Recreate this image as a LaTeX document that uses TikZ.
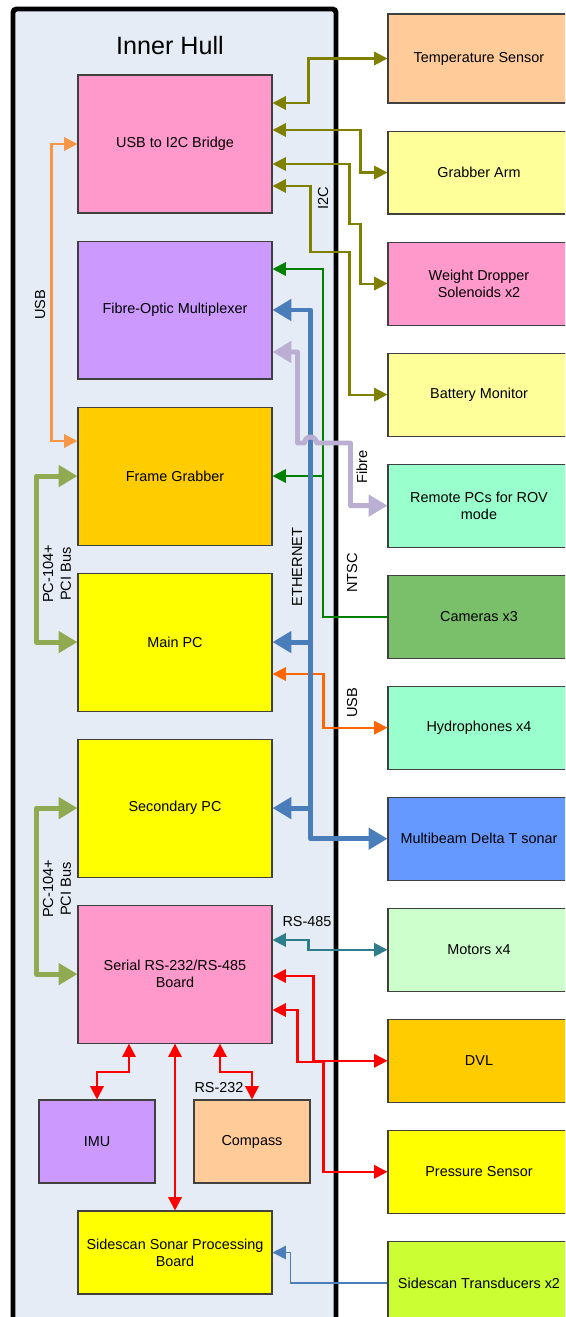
\documentclass[tikz,border=0pt]{standalone}
\usepackage{fontspec}
\setmainfont{Liberation Sans}
\usetikzlibrary{arrows.meta, positioning}
\definecolor{hull-bg}{HTML}{E6ECF6}
\definecolor{box-line}{HTML}{404040}
\definecolor{pink-box}{HTML}{FF99CC}
\definecolor{violet-box}{HTML}{CC99FF}
\definecolor{amber-box}{HTML}{FFCC00}
\definecolor{yellow-box}{HTML}{FFFF00}
\definecolor{peach-box}{HTML}{FFCC99}
\definecolor{paleyellow-box}{HTML}{FFFF99}
\definecolor{mint-box}{HTML}{99FFCC}
\definecolor{camera-green}{HTML}{7AC06A}
\definecolor{sonar-blue}{HTML}{6699FF}
\definecolor{palegreen-box}{HTML}{CCFFCC}
\definecolor{lime-box}{HTML}{CCFF33}
\definecolor{i2c-olive}{HTML}{808000}
\definecolor{usb-orange}{HTML}{F79646}
\definecolor{usb-red}{HTML}{FF6600}
\definecolor{ntsc-green}{HTML}{008000}
\definecolor{eth-blue}{HTML}{4A7EBB}
\definecolor{fibre-lilac}{HTML}{BBAED3}
\definecolor{pci-green}{HTML}{8FAA50}
\definecolor{rs485-teal}{HTML}{2E7D8C}

\begin{document}
\begin{tikzpicture}[
    x=0.02cm, y=-0.02cm,
    node distance=0.54cm,
    font=\fontsize{8.2}{9.8}\selectfont,
    inbox/.style={draw=box-line, line width=0.6pt, align=center, minimum width=3.88cm, minimum height=2.76cm, inner sep=1pt},
    outbox/.style={draw=box-line, line width=0.6pt, align=center, minimum width=3.64cm, minimum height=1.66cm, inner sep=1pt},
    smallbox/.style={inbox, minimum width=2.32cm, minimum height=1.66cm},
    oneway/.style={-{Triangle[length=7.6pt,width=7.6pt]}, line width=1.2pt},
    twoway/.style={{Triangle[length=7.6pt,width=7.6pt]}-{Triangle[length=7.6pt,width=7.6pt]}, line width=1.2pt},
    busway/.style={{Triangle[length=10.8pt,width=12pt]}-{Triangle[length=10.8pt,width=12pt]}, line width=2.8pt, line join=round},
    busend/.style={-{Triangle[length=10.8pt,width=12pt]}, line width=2.8pt},
    lbl/.style={rotate=90, align=center, inner sep=0pt, font=\fontsize{8.3}{10}\selectfont}
]
    \clip (0,0) rectangle (565,1317);
    \fill[white] (0,0) rectangle (565,1317);

    % hull
    \draw[line width=2.8pt, rounded corners=2pt, fill=hull-bg] (13,9) rectangle (336,1345);
    \node[font=\fontsize{14.3}{17}\selectfont] (hulltitle) at (170,46) {Inner Hull};

    % inside the hull
    \node[inbox, fill=pink-box] (bridge) at (175,144) {USB to I2C Bridge};
    \node[inbox, fill=violet-box, below=of bridge] (mux) {Fibre-Optic Multiplexer};
    \node[inbox, fill=amber-box, below=of mux] (fgrab) {Frame Grabber};
    \node[inbox, fill=yellow-box, below=of fgrab] (mainpc) {Main PC};
    \node[inbox, fill=yellow-box, below=of mainpc] (secpc) {Secondary PC};
    \node[inbox, fill=pink-box, below=of secpc] (serial) {Serial RS-232/RS-485\\Board};
    \node[smallbox, fill=violet-box] (imu) at (97,1141.5) {IMU};
    \node[smallbox, fill=peach-box] (compass) at (252,1141.5) {Compass};
    \node[inbox, fill=yellow-box, minimum height=1.66cm] (sideboard) at (175,1252.5) {Sidescan Sonar Processing\\Board};

    % outside the hull
    \node[outbox, fill=peach-box, minimum height=1.78cm] (temp) at (479,58.5) {Temperature Sensor};
    \node[outbox, fill=paleyellow-box, below=of temp] (arm) {Grabber Arm};
    \node[outbox, fill=pink-box, below=of arm] (weight) {Weight Dropper\\Solenoids x2};
    \node[outbox, fill=paleyellow-box, below=of weight] (battery) {Battery Monitor};
    \node[outbox, fill=mint-box, below=of battery] (remote) {Remote PCs for ROV\\mode};
    \node[outbox, fill=camera-green, below=of remote] (cams) {Cameras x3};
    \node[outbox, fill=mint-box, below=of cams] (hydro) {Hydrophones x4};
    \node[outbox, fill=sonar-blue, below=of hydro] (sonar) {Multibeam Delta T sonar};
    \node[outbox, fill=palegreen-box, below=of sonar] (motors) {Motors x4};
    \node[outbox, fill=amber-box, below=of motors] (dvl) {DVL};
    \node[outbox, fill=yellow-box, below=of dvl] (pressure) {Pressure Sensor};
    \node[outbox, fill=lime-box, below=of pressure] (trans) {Sidescan Transducers x2};

    % bus lines
    \coordinate (ntscbus) at (323,0);
    \coordinate (ethbus) at (310,0);

    % I2C
    \draw[twoway, i2c-olive] (bridge.east |- 0,103) -- ++(36,0) |- (temp.west);
    \draw[twoway, i2c-olive] (bridge.east |- 0,130) -- ++(88,0) |- (arm.west);
    \draw[twoway, i2c-olive] (bridge.east |- 0,164) -- ++(77,0) -- ++(0,60) -- ++(11,0) |- (weight.west);
    \draw[twoway, i2c-olive] (bridge.east |- 0,186) -- ++(38,0) -- ++(0,66) -- ++(39,0) |- (battery.west);
    \node[lbl] (i2clbl) at (323,198) {I2C};

    % USB
    \draw[twoway, usb-orange] (bridge.west) -- ++(-26,0) |- (fgrab.west |- 0,441);
    \node[lbl] (usblbl) at (40,305) {USB};
    \draw[twoway, usb-red] (mainpc.east |- 0,674) -- ++(51,0) |- (hydro.west);
    \node[lbl] (usb2lbl) at (352,703) {USB};

    % NTSC
    \draw[oneway, ntsc-green] (cams.west) -| (ntscbus |- 0,269) -- (mux.east |- 0,269);
    \draw[oneway, ntsc-green] (fgrab.east -| ntscbus) -- (fgrab.east);
    \node[lbl] (ntsclbl) at (352,573) {NTSC};

    % ETHERNET
    \draw[busway, eth-blue] (mux.east |- 0,310) -- ++(38,0) |- (sonar.west);
    \draw[busend, eth-blue] (mainpc.east -| ethbus) -- (mainpc.east);
    \draw[busend, eth-blue] (secpc.east -| ethbus) -- (secpc.east);
    \node[lbl] (ethlbl) at (297,567) {ETHERNET};

    % Fibre
    \draw[busway, fibre-lilac] (mux.east |- 0,352) -- ++(25,0) -- ++(0,91) -- ++(7,0)
        arc[start angle=180, end angle=0, radius=0.12cm] -- ++(34,0) |- (remote.west);
    \node[lbl] (fibrelbl) at (362,467) {Fibre};

    % PC-104+ PCI Bus
    \draw[busway, pci-green] (fgrab.west) -- ++(-41,0) |- (mainpc.west);
    \draw[busway, pci-green] (secpc.west) -- ++(-41,0) |- (serial.west);
    \node[lbl] (pcilbl) at (57,574) {PC-104+\\PCI Bus};
    \node[lbl] (pcilbl2) at (57,889) {PC-104+\\PCI Bus};

    % RS-485
    \draw[twoway, rs485-teal] (serial.east |- 0,940) -- ++(36,0) |- (motors.west);
    \node[inner sep=0pt] (rs485lbl) at (307,922) {RS-485};

    % RS-232
    \draw[twoway, red] (serial.east |- 0,976) -- ++(41,0) |- (dvl.west);
    \draw[twoway, red] (serial.east |- 0,1010) -- ++(25,0) -- ++(0,52) -- ++(26,0) |- (pressure.west);
    \draw[twoway, red] ([xshift=-0.92cm]serial.south) -- ++(0,28) -| (imu.north);
    \draw[twoway, red] (serial.south) -- (sideboard.north);
    \draw[twoway, red] ([xshift=0.9cm]serial.south) -- ++(0,28) -| (compass.north);
    \node[inner sep=0pt] (rs232lbl) at (219,1088) {RS-232};

    % sidescan
    \draw[oneway, eth-blue, line width=0.9pt] (trans.west) -- ++(-97,0) |- (sideboard.east);
\end{tikzpicture}
\end{document}
